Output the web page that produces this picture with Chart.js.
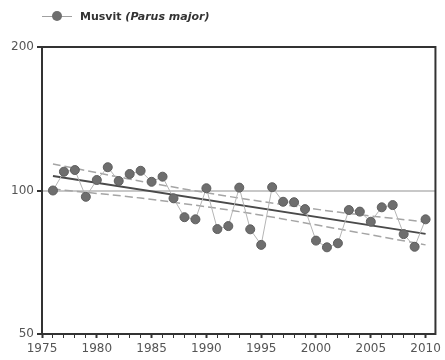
<!DOCTYPE html>
<html>
<head>
<meta charset="utf-8">
<script src="https://cdn.jsdelivr.net/npm/chart.js@4.4.1/dist/chart.umd.min.js"></script>
<style>
    body { margin: 0; background: #fff; }
    .wrap { position: relative; width: 445px; height: 360px; }
    .legend { position: absolute; left: 42px; top: 8px; height: 16px; display: flex; align-items: center; }
    .legend .mark { position: relative; width: 30px; height: 16px; }
    .legend .mark .ln { position: absolute; left: 0; right: 0; top: 8px; height: 1px; background: #a0a0a0; }
    .legend .mark .dot { position: absolute; left: 10px; top: 3px; width: 10px; height: 10px; border-radius: 50%; background: #6e6e6e; }
    .legend .txt { margin-left: 8px; font: bold 11px "DejaVu Sans", sans-serif; color: #333; }
</style>
</head>
<body>
<div class="wrap">
    <div class="legend">
        <div class="mark"><div class="ln"></div><div class="dot"></div></div>
        <div class="txt">Musvit <i>(Parus major)</i></div>
    </div>
    <canvas id="birdChart"></canvas>
</div>
<script>
// Index per year (1976 = first survey year)
const years = [1976, 1977, 1978, 1979, 1980, 1981, 1982, 1983, 1984, 1985,
               1986, 1987, 1988, 1989, 1990, 1991, 1992, 1993, 1994, 1995,
               1996, 1997, 1998, 1999, 2000, 2001, 2002, 2003, 2004, 2005,
               2006, 2007, 2008, 2009, 2010];
const indexValues = [100, 109.5, 110.4, 97, 105.2, 111.9, 104.7, 108.3, 110, 104.3,
                     106.9, 96.3, 87.9, 87, 101.1, 83, 84.2, 101.4, 82.9, 76.9,
                     101.6, 94.7, 94.5, 91.4, 78.5, 76, 77.5, 91, 90.3, 86,
                     92.2, 93.2, 81, 76.2, 87];

// Trend line and its confidence band
const trendYears = [1976, 2010];
const trendValues = [107.3, 81.1];
const bandYears = [1976, 1984, 1993, 2002, 2010];
const bandUpper = [113.7, 104.6, 96.4, 90.1, 85.9];
const bandLower = [100.7, 96.4, 90.3, 83.1, 76.9];

// Axis ticks
const xTickLabels = [1975, 1980, 1985, 1990, 1995, 2000, 2005, 2010];
const yTickLabels = [50, 100, 200];

const pts = (xs, ys) => xs.map((x, i) => ({ x: x, y: ys[i] }));

// Frame round the plot area
const framePlugin = {
    id: 'frame',
    afterDraw(chart) {
        const { ctx, chartArea: a } = chart;
        ctx.save();
        ctx.strokeStyle = '#333';
        ctx.lineWidth = 2;
        ctx.strokeRect(a.left, a.top, a.right - a.left, a.bottom - a.top);
        ctx.restore();
    }
};

const tickFont = { family: 'DejaVu Sans', size: 12 };

new Chart(document.getElementById('birdChart'), {
    type: 'line',
    data: {
        datasets: [{
            label: 'Musvit (Parus major)',
            data: pts(years, indexValues),
            borderColor: '#b5b5b5',
            borderWidth: 1,
            pointRadius: 4.5,
            pointBackgroundColor: '#6e6e6e',
            pointBorderColor: '#5e5e5e',
            pointBorderWidth: 1,
            tension: 0
        }, {
            label: 'Trend',
            data: pts(trendYears, trendValues),
            borderColor: '#4a4a4a',
            borderWidth: 2,
            pointRadius: 0
        }, {
            label: 'Upper',
            data: pts(bandYears, bandUpper),
            borderColor: '#a5a5a5',
            borderWidth: 1.5,
            borderDash: [8, 4],
            pointRadius: 0,
            tension: 0.3
        }, {
            label: 'Lower',
            data: pts(bandYears, bandLower),
            borderColor: '#a5a5a5',
            borderWidth: 1.5,
            borderDash: [8, 4],
            pointRadius: 0,
            tension: 0.3
        }]
    },
    options: {
        responsive: true,
        maintainAspectRatio: false,
        animation: false,
        layout: { padding: { top: 47, right: 6, left: 0, bottom: 0 } },
        plugins: {
            legend: { display: false },
            tooltip: { enabled: false }
        },
        scales: {
            x: {
                type: 'linear',
                min: 1975,
                max: 2010.9,
                afterBuildTicks: (axis) => {
                    const t = [];
                    for (let y = 1975; y <= 2010; y++) t.push({ value: y });
                    axis.ticks = t;
                },
                afterFit: (scale) => { scale.height = 26; },
                border: { display: false },
                grid: {
                    drawOnChartArea: false,
                    tickLength: 4,
                    tickColor: '#333',
                    tickWidth: (c) => (xTickLabels.includes(c.tick.value) ? 2 : 1)
                },
                ticks: {
                    autoSkip: false,
                    maxRotation: 0,
                    padding: 4,
                    color: '#555',
                    font: tickFont,
                    callback: (v) => (xTickLabels.includes(v) ? String(v) : '')
                }
            },
            y: {
                type: 'logarithmic',
                min: 50,
                max: 200,
                afterBuildTicks: (axis) => {
                    axis.ticks = yTickLabels.map(v => ({ value: v }));
                },
                afterFit: (scale) => { scale.width = 42; },
                border: { display: false },
                grid: {
                    color: (c) => (c.tick && c.tick.value === 100 ? '#c8c8c8' : 'rgba(0,0,0,0)'),
                    lineWidth: 2,
                    tickLength: 5,
                    tickColor: '#333'
                },
                ticks: {
                    padding: 3,
                    color: '#555',
                    font: tickFont,
                    callback: (v) => String(v)
                }
            }
        }
    },
    plugins: [framePlugin]
});
</script>
</body>
</html>
